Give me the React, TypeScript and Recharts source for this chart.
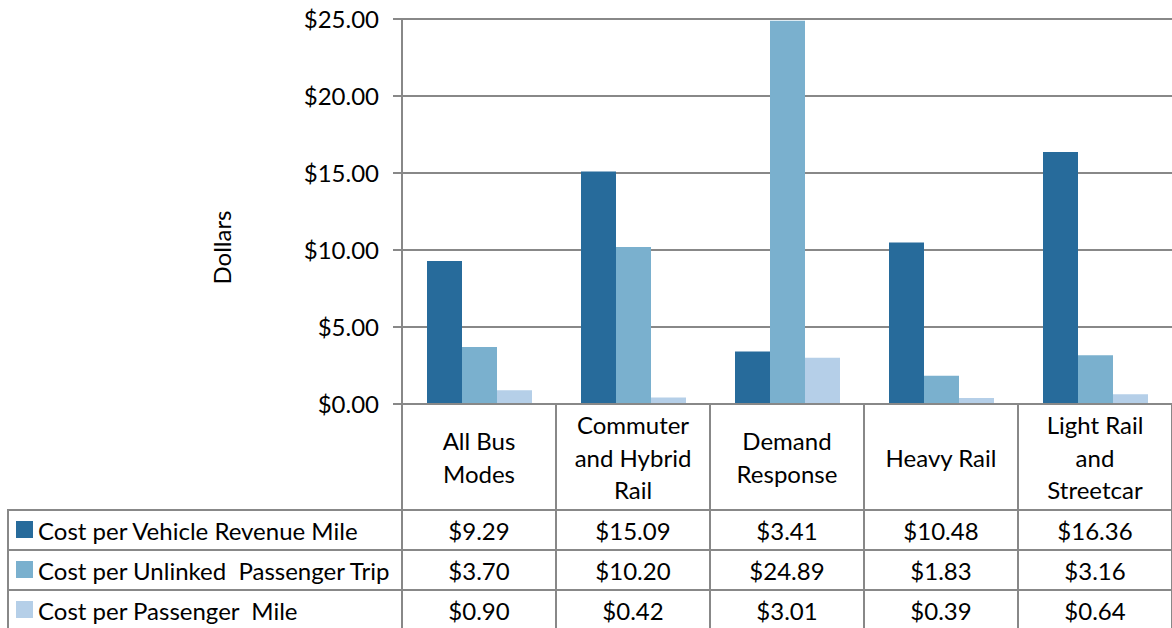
import React from "react";
import { BarChart, Bar, XAxis, YAxis, CartesianGrid } from "recharts";

const categories = [
  "All Bus\nModes",
  "Commuter\nand Hybrid\nRail",
  "Demand\nResponse",
  "Heavy Rail",
  "Light Rail\nand\nStreetcar",
];
const seriesNames = [
  "Cost per Vehicle Revenue Mile",
  "Cost per Unlinked  Passenger Trip",
  "Cost per Passenger  Mile",
];
const vehicleRevenueMile = [9.29, 15.09, 3.41, 10.48, 16.36];
const unlinkedTrip = [3.7, 10.2, 24.89, 1.83, 3.16];
const passengerMile = [0.9, 0.42, 3.01, 0.39, 0.64];
const yTicks = [0, 5, 10, 15, 20, 25];

const COLORS = ["#276b9b", "#7ab0ce", "#b5cfe8"];
const FONT = "Lato, 'Open Sans', sans-serif";
const FS = 24;
const GRID = "#888888";

const data = categories.map((c, i) => ({
  name: c,
  a: vehicleRevenueMile[i],
  b: unlinkedTrip[i],
  c: passengerMile[i],
}));
const seriesValues = [vehicleRevenueMile, unlinkedTrip, passengerMile];

const W = 1172;
const H = 628;
const PLOT_LEFT = 402;
const PLOT_BOTTOM = 404;
const HEADER_BOTTOM = 510;
const ROW_H = 40;
const BAND = (W - PLOT_LEFT) / categories.length;

const money = (v: number) => `$${v.toFixed(2)}`;

function TableTick(props: any) {
  const { x, payload, index } = props;
  const lines = String(payload.value).split("\n");
  const mid = (PLOT_BOTTOM + HEADER_BOTTOM) / 2;
  const lh = 32.5;
  const y0 = mid - ((lines.length - 1) * lh) / 2;
  return (
    <g>
      <line x1={x + BAND / 2} x2={x + BAND / 2} y1={PLOT_BOTTOM} y2={H} stroke={GRID} strokeWidth={2} />
      {lines.map((l, k) => (
        <text key={k} x={x} y={y0 + k * lh} textAnchor="middle" dominantBaseline="central" fontSize={FS} fontFamily={FONT} fill="#000">
          {l}
        </text>
      ))}
      {seriesValues.map((vals, r) => (
        <text key={`v${r}`} x={x} y={HEADER_BOTTOM + ROW_H * r + ROW_H / 2} textAnchor="middle" dominantBaseline="central" fontSize={FS} fontFamily={FONT} fill="#000">
          {money(vals[index])}
        </text>
      ))}
    </g>
  );
}

export default function App() {
  return (
    <div style={{ position: "absolute", left: 0, top: 0, width: W, height: H, background: "#fff" }}>
      <BarChart width={W} height={H} data={data} margin={{ top: 19, right: 0, bottom: 0, left: 0 }} barCategoryGap={25} barGap={0}>
        <CartesianGrid vertical={false} stroke={GRID} strokeWidth={2} />
        <YAxis
          width={PLOT_LEFT}
          domain={[0, 25]}
          ticks={yTicks}
          tickFormatter={money}
          tickSize={9}
          tickMargin={14}
          axisLine={{ stroke: GRID, strokeWidth: 2 }}
          tickLine={{ stroke: GRID, strokeWidth: 2 }}
          tick={{ fontSize: FS, fontFamily: FONT, fill: "#000" }}
          label={{ value: "Dollars", angle: -90, position: "center", dx: 21, dy: 36, fontSize: FS, fontFamily: FONT, fill: "#000" }}
        />
        <XAxis
          dataKey="name"
          height={H - PLOT_BOTTOM}
          interval={0}
          tickLine={false}
          axisLine={{ stroke: GRID, strokeWidth: 2 }}
          tick={<TableTick />}
        />
        <Bar dataKey="a" fill={COLORS[0]} isAnimationActive={false} />
        <Bar dataKey="b" fill={COLORS[1]} isAnimationActive={false} />
        <Bar dataKey="c" fill={COLORS[2]} isAnimationActive={false} />
      </BarChart>
      <svg width={W} height={H} style={{ position: "absolute", left: 0, top: 0, pointerEvents: "none" }}>
        <line x1={PLOT_LEFT} x2={PLOT_LEFT} y1={PLOT_BOTTOM} y2={H} stroke={GRID} strokeWidth={2} />
        <line x1={8} x2={8} y1={HEADER_BOTTOM} y2={H} stroke={GRID} strokeWidth={2} />
        {[0, 1, 2].map((r) => (
          <line key={r} x1={7} x2={W} y1={HEADER_BOTTOM + r * ROW_H} y2={HEADER_BOTTOM + r * ROW_H} stroke={GRID} strokeWidth={2} />
        ))}
        {seriesNames.map((n, r) => {
          const cy = HEADER_BOTTOM + ROW_H * r + ROW_H / 2;
          return (
            <g key={n}>
              <rect x={16} y={cy - 9} width={17} height={17} fill={COLORS[r]} />
              <text x={38} y={cy} dominantBaseline="central" fontSize={FS} fontFamily={FONT} fill="#000" style={{ whiteSpace: "pre" }}>
                {n}
              </text>
            </g>
          );
        })}
      </svg>
    </div>
  );
}
